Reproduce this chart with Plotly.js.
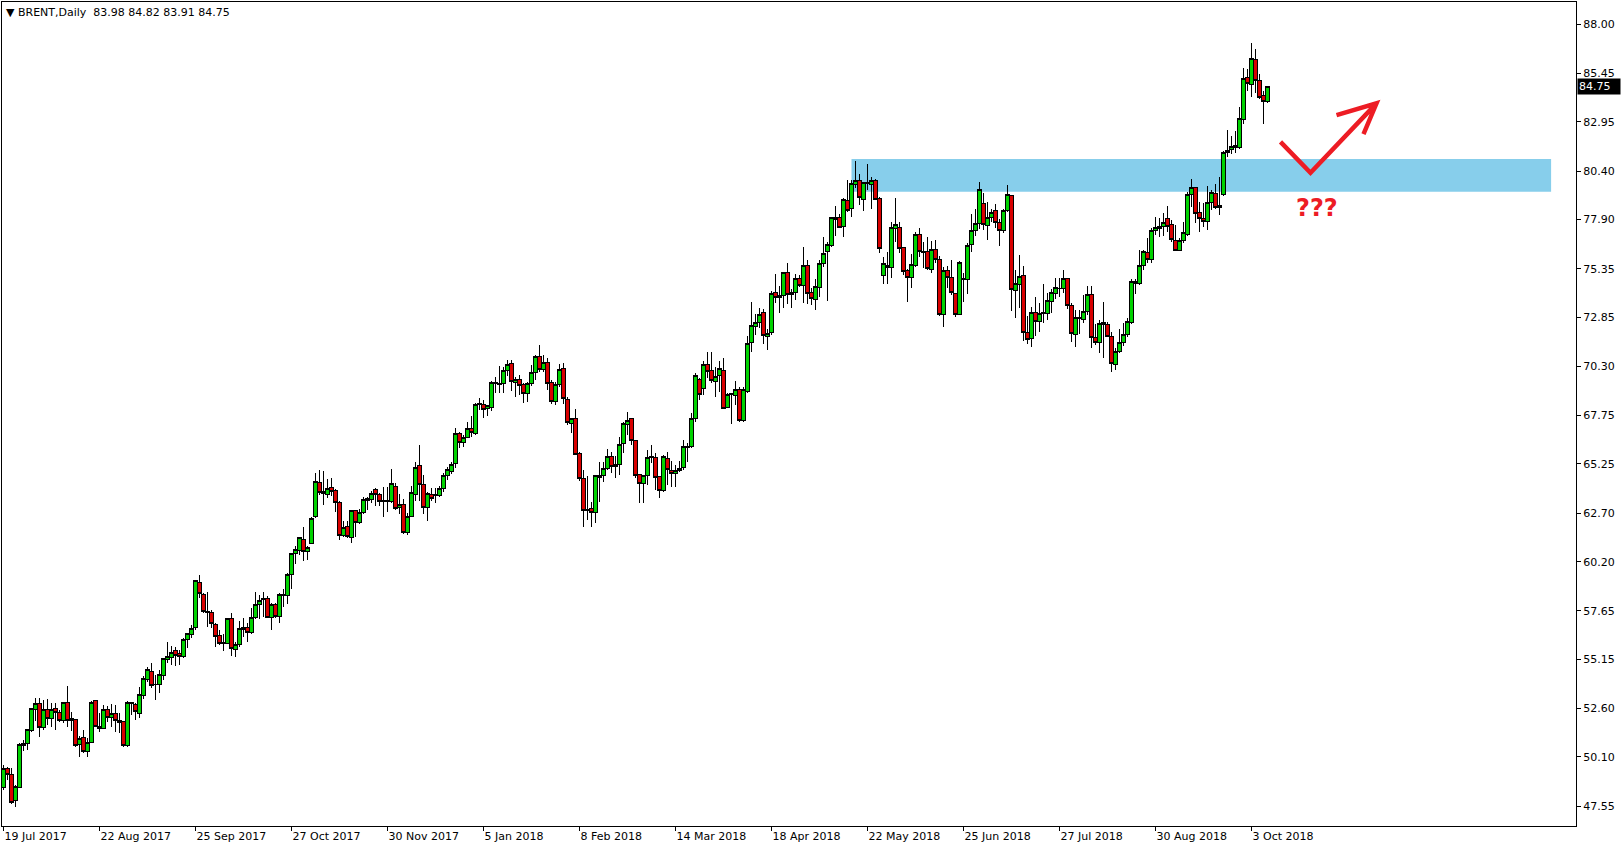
<!DOCTYPE html>
<html><head><meta charset="utf-8">
<script src="https://cdn.plot.ly/plotly-3.0.1.min.js"></script>
<style>html,body{margin:0;padding:0;background:#fff;overflow:hidden}#chart{width:1621px;height:850px}
#chart .boxlayer path{shape-rendering:crispEdges}</style>
</head><body><div id="chart"></div>
<script>
// ---- DATA (BRENT, Daily) ----
const symbolTitle = 'BRENT,Daily';
const openPrices = [
48.51,49.51,49.17,47.84,48.53,50.69,50.81,51.46,52.56,52.87,51.63,52.53,52.10,52.62,52.41,52.01,52.93,51.98,52.05,50.75,
51.10,50.38,50.86,53.03,51.70,51.58,52.53,52.15,52.36,52.01,51.94,50.69,52.90,52.79,52.36,53.27,54.12,54.51,53.85,53.87,
54.31,55.12,55.24,55.63,55.46,55.32,56.18,56.44,56.80,59.13,58.51,57.61,57.58,56.96,56.36,56.03,55.98,57.24,55.67,55.89,
56.67,56.80,56.53,57.30,57.99,58.22,58.30,57.32,57.99,57.36,58.44,58.44,59.51,60.63,60.80,61.37,60.72,61.15,62.53,64.30,
63.82,63.65,64.04,63.90,63.28,61.54,62.04,61.46,62.82,62.22,62.73,63.34,63.42,63.91,63.68,63.34,63.32,63.30,64.11,62.99,
63.16,61.70,62.53,63.68,65.18,64.20,63.01,63.68,63.65,63.61,63.99,64.65,64.85,65.28,66.84,66.37,66.63,67.09,66.84,68.33,
68.35,68.11,68.16,69.42,69.42,69.42,70.06,70.45,69.47,69.63,69.34,68.90,69.42,69.99,70.83,70.14,70.51,69.45,68.47,69.38,
70.20,68.61,67.35,67.61,65.80,64.51,62.91,62.96,62.75,64.54,64.68,65.03,65.63,65.20,65.23,66.32,67.30,67.58,66.49,64.71,
64.25,64.65,65.59,65.59,64.59,63.87,65.54,64.90,64.77,64.90,65.06,66.13,66.15,67.61,69.63,69.16,70.40,70.06,69.51,69.82,
70.06,68.16,68.82,68.78,69.11,67.52,69.02,71.52,72.35,72.57,73.09,71.83,72.04,74.13,73.94,73.95,75.16,74.02,74.13,74.85,
74.47,75.54,74.11,73.76,74.38,75.62,76.23,76.54,77.90,78.00,77.52,78.90,78.47,79.71,79.90,78.93,79.80,79.71,79.90,78.99,
75.02,75.42,75.42,77.43,77.49,76.45,75.23,74.90,75.50,77.12,76.26,76.26,75.32,76.35,75.83,72.99,75.25,74.90,74.07,72.99,
74.85,74.80,76.61,77.35,77.69,78.73,77.57,78.00,78.38,77.74,77.30,78.35,79.16,74.21,74.54,75.02,72.04,71.75,73.09,72.61,
73.03,73.01,73.64,74.07,74.35,74.33,74.85,73.47,71.95,72.80,72.73,73.13,74.02,71.80,71.54,72.57,72.44,71.83,70.42,71.06,
71.52,71.95,72.56,74.71,74.59,75.49,76.19,75.83,77.30,77.42,77.52,77.95,77.61,76.83,76.31,76.83,77.14,79.21,79.55,78.26,
77.92,77.78,78.78,79.25,78.52,79.19,81.36,81.52,81.62,81.61,83.04,85.24,84.88,86.17,85.10,84.33,83.98];
const highPrices = [
49.69,49.60,49.51,48.65,50.81,50.98,51.53,52.65,53.13,53.13,53.05,53.08,52.87,52.87,52.53,52.96,53.77,52.44,52.05,51.20,
51.50,51.06,53.01,53.05,52.36,52.79,52.75,52.82,52.79,52.36,51.94,52.98,52.96,52.87,53.74,54.29,54.77,54.94,54.34,54.60,
55.20,56.06,55.84,55.80,55.63,56.24,56.53,56.92,59.25,59.51,58.56,58.65,57.70,57.01,56.67,56.44,57.27,57.53,56.06,57.13,
57.27,57.05,57.79,58.65,58.48,58.65,58.42,58.04,58.04,58.56,58.77,59.60,60.66,61.01,61.49,61.97,61.01,62.49,64.77,64.94,
64.90,64.46,64.51,63.94,63.34,62.30,62.30,62.82,62.82,62.91,63.53,63.56,63.87,63.99,63.73,64.04,64.08,64.99,64.25,63.70,
63.42,62.73,64.11,65.37,66.23,64.68,63.82,63.99,63.99,64.11,64.77,65.08,65.37,67.09,66.92,66.75,67.44,67.73,68.39,68.65,
68.56,68.30,69.54,69.77,70.32,70.25,70.63,70.63,69.77,69.85,69.42,69.51,70.37,70.89,71.40,70.89,70.71,69.59,69.51,70.42,
70.49,68.73,67.61,68.08,65.89,64.94,64.63,63.30,64.63,65.37,65.37,66.01,65.89,65.66,66.63,67.44,67.96,67.61,66.49,64.71,
64.68,65.97,66.23,65.80,64.59,65.72,65.85,65.42,65.20,65.42,66.49,66.32,67.87,69.94,69.68,70.59,71.02,71.02,70.28,70.59,
70.71,68.90,68.94,69.56,69.21,69.25,71.86,73.64,73.00,73.30,73.24,72.21,74.19,75.06,74.45,75.19,75.63,74.28,75.06,75.02,
76.45,75.80,74.33,74.80,75.80,76.97,76.75,78.04,78.59,78.18,78.99,79.93,79.93,80.92,80.24,79.85,80.74,80.07,79.97,79.04,
75.94,76.23,77.78,78.99,77.78,76.45,75.33,76.11,77.26,77.43,76.71,76.97,76.78,76.83,76.00,75.45,75.49,75.80,74.11,75.75,
75.11,76.66,78.18,78.42,79.85,79.24,78.81,78.43,78.69,77.92,78.42,79.68,79.16,75.28,76.06,75.49,72.90,73.35,73.87,73.56,
74.56,74.07,74.30,74.85,74.85,75.28,74.88,73.56,73.21,73.21,73.99,74.45,74.45,72.49,72.69,73.61,72.61,72.09,71.23,72.21,
72.56,72.78,74.80,74.80,76.31,76.31,76.92,77.43,78.04,77.95,78.25,78.59,77.87,77.61,76.92,77.78,79.30,79.97,79.55,78.78,
78.76,79.62,79.42,79.73,80.07,81.45,82.52,82.21,82.47,83.69,85.71,85.66,87.04,86.71,85.42,84.54,84.82];
const lowPrices = [
48.39,48.91,47.67,47.53,48.50,50.43,50.46,51.41,51.96,51.12,51.50,51.75,51.67,51.50,51.93,51.84,51.67,51.44,50.60,50.08,
50.29,50.08,50.81,51.67,51.41,51.55,51.93,51.67,51.41,51.32,50.60,50.60,52.27,52.01,52.10,53.10,53.99,53.65,53.05,53.43,
54.08,54.94,54.86,54.81,54.86,55.20,55.72,56.24,56.67,58.30,57.53,56.80,56.75,55.77,55.89,55.60,55.94,55.32,55.25,55.80,
56.32,56.03,56.46,57.23,57.23,57.36,57.27,56.67,57.27,57.05,57.87,58.01,58.79,60.08,60.54,60.25,60.28,61.11,62.47,63.65,
63.13,63.47,63.59,62.78,61.32,61.46,61.41,61.18,61.49,62.15,62.66,62.87,63.25,63.08,63.08,62.49,62.79,63.22,62.87,62.66,
61.63,61.58,62.49,63.35,63.35,62.66,62.32,63.35,63.22,63.53,63.82,64.42,64.73,65.03,66.06,66.15,66.58,66.63,66.75,68.04,
67.61,67.73,68.01,68.90,68.90,68.90,69.80,69.02,68.73,68.82,68.42,68.47,69.28,69.59,70.02,70.02,69.08,68.35,68.30,69.25,
68.35,67.27,66.87,65.72,64.39,62.01,62.35,61.97,62.18,63.30,64.34,64.94,64.77,64.51,64.68,65.84,66.75,66.23,64.51,63.25,
63.25,64.16,65.28,63.90,63.47,63.82,64.16,64.08,64.08,64.85,64.94,65.37,66.06,67.44,68.56,68.82,69.68,69.42,68.73,68.99,
68.09,68.13,67.32,68.30,67.44,67.44,68.94,71.06,71.92,72.26,71.45,71.14,71.92,73.56,73.07,73.30,73.50,73.30,73.73,74.42,
73.59,73.52,73.47,73.21,73.90,75.45,73.69,76.49,77.05,77.43,77.00,78.30,78.04,79.50,78.64,78.35,79.42,78.42,78.90,76.18,
74.56,74.56,74.85,76.74,76.14,75.02,73.64,74.33,75.45,75.97,75.37,75.28,75.14,75.66,72.90,72.35,74.33,73.99,72.87,72.95,
73.64,74.04,76.23,77.04,77.38,77.35,76.83,77.78,77.43,76.52,77.21,78.30,73.18,72.78,73.33,71.63,71.45,71.28,71.89,72.09,
72.56,72.70,73.07,73.78,73.87,74.11,73.25,71.57,71.28,71.97,72.56,72.95,71.23,71.42,71.00,70.71,71.80,69.99,70.11,70.97,
71.35,71.80,72.47,74.02,74.50,75.28,75.66,75.62,77.09,76.97,77.04,77.26,76.75,76.28,76.28,76.66,77.04,78.55,77.73,77.23,
77.48,77.35,78.38,78.42,78.12,79.12,81.14,81.28,81.31,81.54,82.81,84.54,84.24,84.42,84.12,82.83,83.91];
const closePrices = [
49.51,49.17,47.74,48.57,50.77,50.81,51.50,52.62,52.87,51.63,52.53,52.10,52.56,52.39,52.01,52.93,51.96,52.10,50.69,51.03,
50.38,50.86,52.93,51.70,51.56,52.53,52.15,52.36,52.01,51.89,50.67,52.93,52.87,52.44,53.31,54.17,54.60,53.79,53.87,54.34,
55.17,55.32,55.51,55.37,55.32,56.18,56.49,56.75,59.20,58.56,57.61,57.58,57.01,56.32,55.98,55.98,57.24,55.72,55.89,56.72,
56.80,56.53,57.32,57.99,58.20,58.30,57.32,57.96,57.36,58.51,58.51,59.54,60.63,60.84,61.46,60.72,60.94,62.44,64.34,63.77,
63.75,63.99,63.82,63.25,61.54,61.97,61.49,62.82,62.22,62.73,63.39,63.47,63.73,63.68,63.30,63.32,63.34,64.22,62.96,63.16,
61.70,62.56,63.78,65.08,64.20,63.01,63.73,63.47,63.60,63.99,64.68,64.94,65.20,66.84,66.37,66.63,67.09,66.87,68.35,68.40,
68.08,68.25,69.47,69.47,69.34,70.06,70.42,69.51,69.63,69.30,68.90,69.42,69.99,70.83,70.14,70.51,69.42,68.47,69.38,70.16,
68.64,67.39,67.58,65.75,64.51,62.87,62.86,62.75,64.63,64.68,65.03,65.63,65.11,65.11,66.27,67.35,67.52,66.46,64.68,64.25,
64.63,65.59,65.66,64.56,63.90,65.66,64.97,64.77,64.90,65.03,66.15,66.09,67.61,69.85,68.82,70.40,70.02,69.56,69.80,70.20,
68.13,68.82,68.90,69.11,67.52,69.08,71.49,72.39,72.57,73.00,71.87,72.01,74.07,73.85,73.85,75.16,74.02,74.14,74.85,74.47,
75.49,74.07,73.82,74.45,75.62,76.14,76.61,78.00,78.00,77.47,78.93,78.38,79.73,79.90,79.04,79.81,79.73,79.90,78.93,76.40,
75.63,75.49,77.49,77.61,76.40,75.19,74.90,75.57,77.14,76.23,76.21,75.37,76.35,75.83,72.99,75.25,74.90,74.11,72.99,75.68,
74.80,76.57,77.35,77.69,79.45,77.61,78.00,78.26,77.74,77.30,78.35,79.19,74.28,74.59,74.97,72.04,71.70,73.09,72.61,73.04,
73.06,73.71,74.11,74.38,74.33,74.85,73.44,72.00,72.83,72.78,73.13,74.02,71.80,71.52,72.52,72.47,71.83,70.45,71.09,71.54,
71.97,72.61,74.71,74.59,75.54,76.26,75.83,77.30,77.49,77.52,77.75,77.52,76.87,76.31,76.80,77.21,79.21,79.55,78.21,77.92,
77.78,78.78,79.30,78.52,78.64,81.36,81.48,81.66,81.74,83.12,85.19,84.90,86.22,85.07,84.21,83.98,84.75];
const dateLabels = ['19 Jul 2017','22 Aug 2017','25 Sep 2017','27 Oct 2017','30 Nov 2017','5 Jan 2018','8 Feb 2018',
  '14 Mar 2018','18 Apr 2018','22 May 2018','25 Jun 2018','27 Jul 2018','30 Aug 2018','3 Oct 2018'];
const dateLabelBars = [0,24,48,72,96,120,144,168,192,216,240,264,288,312];
const priceTicks = [88.00,85.45,82.95,80.40,77.90,75.35,72.85,70.30,67.75,65.25,62.70,60.20,57.65,55.15,52.60,50.10,47.55];

// ---- CHART ----
const n = openPrices.length;
const barIndex = openPrices.map((_, i) => i);
const lastO = openPrices[n-1], lastH = highPrices[n-1], lastL = lowPrices[n-1], lastC = closePrices[n-1];
const f2 = v => v.toFixed(2);
const RED = '#ed1c24';
const FONT = 'DejaVu Sans, Verdana, sans-serif';

const trace = {
  type: 'candlestick',
  x: barIndex,
  open: openPrices, high: highPrices, low: lowPrices, close: closePrices,
  increasing: {line: {color: '#000000', width: 1}, fillcolor: '#00d200'},
  decreasing: {line: {color: '#000000', width: 1}, fillcolor: '#d80000'},
  whiskerwidth: 0,
  hoverinfo: 'skip',
  showlegend: false
};

const layout = {
  width: 1621, height: 850,
  margin: {l: 2, r: 45, t: 2, b: 24, pad: 0},
  paper_bgcolor: '#ffffff', plot_bgcolor: '#ffffff',
  font: {family: FONT, size: 11, color: '#000000'},
  boxgap: 0.2, boxgroupgap: 0,
  showlegend: false,
  xaxis: {
    range: [-0.375, 393.125], type: 'linear',
    rangeslider: {visible: false},
    tickmode: 'array', tickvals: dateLabelBars, ticktext: dateLabels,
    ticks: 'outside', ticklen: 4, tickcolor: '#000', tickwidth: 1,
    ticklabelposition: 'outside right',
    tickfont: {family: FONT, size: 11, color: '#000'},
    showgrid: false, zeroline: false,
    showline: true, mirror: true, linecolor: '#000', linewidth: 1
  },
  yaxis: {
    range: [46.53, 89.14], side: 'right',
    tickmode: 'array', tickvals: priceTicks, tickformat: '.2f',
    ticks: 'outside', ticklen: 4, tickcolor: '#000', tickwidth: 1,
    tickfont: {family: FONT, size: 11, color: '#000'},
    showgrid: false, zeroline: false,
    showline: true, mirror: true, linecolor: '#000', linewidth: 1
  },
  shapes: [
    {type: 'rect', xref: 'x', yref: 'y', x0: 212.0, x1: 386.9, y0: 79.33, y1: 81.02,
     fillcolor: '#87ceeb', line: {width: 0}, layer: 'below'},
    {type: 'path', xref: 'x', yref: 'y',
     path: 'M 319.25 81.91 L 326.75 80.31 L 343.25 83.90 M 333.25 83.29 L 343.25 83.90 L 340.0 82.31',
     line: {color: RED, width: 4.5}, layer: 'above'}
  ],
  annotations: [
    {xref: 'paper', yref: 'paper', x: 0, y: 1, xanchor: 'left', yanchor: 'middle',
     xshift: 2, yshift: -10, showarrow: false,
     text: '\u25BC ' + symbolTitle + '  ' + [lastO, lastH, lastL, lastC].map(f2).join(' '),
     font: {family: FONT, size: 11, color: '#000'}},
    {xref: 'paper', yref: 'y', x: 1, y: lastC, xanchor: 'left', yanchor: 'middle',
     xshift: 1, showarrow: false, text: f2(lastC), bgcolor: '#000000', borderpad: 1,
     width: 40, align: 'left', font: {family: FONT, size: 11, color: '#ffffff'}},
    {xref: 'x', yref: 'y', x: 328.4, y: 78.49, xanchor: 'center', yanchor: 'middle',
     showarrow: false, text: '<b>???</b>', font: {family: 'DejaVu Sans', size: 24, color: RED}}
  ]
};

Plotly.newPlot('chart', [trace], layout, {staticPlot: true, displayModeBar: false});
</script>
</body></html>
